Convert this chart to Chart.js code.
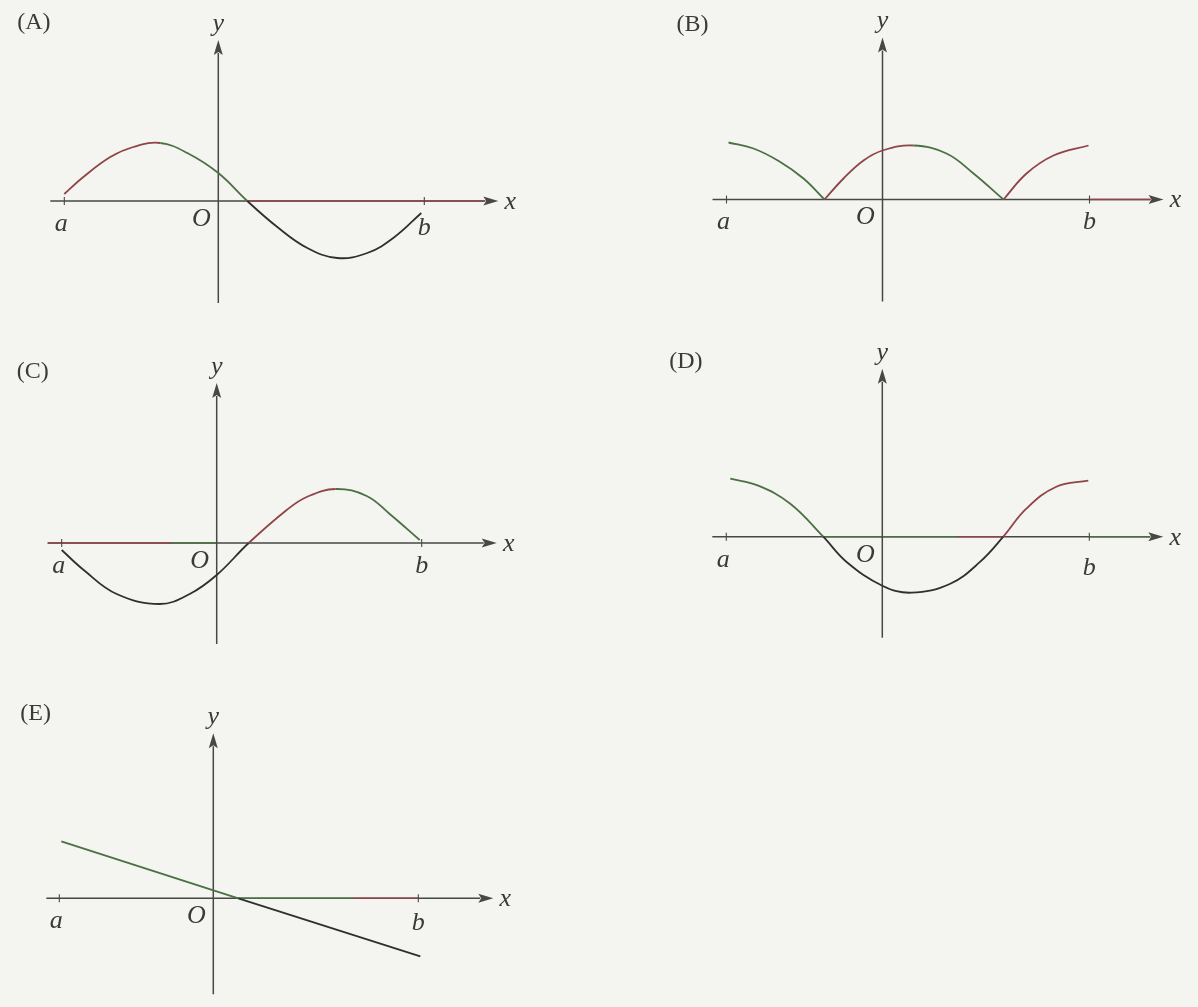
<!DOCTYPE html>
<html>
<head>
<meta charset="utf-8">
<script src="https://cdn.jsdelivr.net/npm/chart.js@4.4.0/dist/chart.umd.min.js"></script>
<style>
  html, body { margin: 0; padding: 0; background: #f4f4f0; }
  body { width: 1198px; height: 1007px; position: relative; overflow: hidden; }
  canvas { position: absolute; }
</style>
</head>
<body>
<canvas id="graph-a"></canvas>
<canvas id="graph-b"></canvas>
<canvas id="graph-c"></canvas>
<canvas id="graph-d"></canvas>
<canvas id="graph-e"></canvas>
<script>
// sampled points of each graph (1 unit = 10 px on both axes)
const curveAx = [-15.4, -13.5, -10.8, -8.5, -5.8, -3.1, 0, 2.9, 5.9, 8.9, 11.9, 14.9, 17.5, 20.3];
const curveAy = [0.7, 2.4, 4.4, 5.4, 5.8, 4.8, 2.8, 0, -2.6, -4.7, -5.7, -5.2, -3.7, -1.2];

// |f| has corners where it touches the axis, so it is split in three arches
const curveB1x = [-15.4, -12.9, -10.3, -7.9, -5.8];
const curveB1y = [5.7, 5.1, 3.8, 2.1, 0];
const curveB2x = [-5.8, -3.9, -1.9, 0, 3.1, 6.4, 9.1, 12.1];
const curveB2y = [0, 2.1, 3.9, 4.9, 5.4, 4.6, 2.6, 0];
const curveB3x = [12.1, 14.4, 17.1, 20.6];
const curveB3y = [0, 2.6, 4.4, 5.4];

const curveCx = [-15.5, -13.3, -10.0, -5.7, -2.7, 0, 3.2, 7.0, 9.0, 11.9, 15.0, 17.3, 20.3];
const curveCy = [-0.7, -2.7, -5.1, -6.1, -5.1, -3.2, 0, 3.3, 4.6, 5.4, 4.7, 2.9, 0.3];

const curveDx = [-15.2, -12.4, -9.2, -5.9, -3.6, 0, 2.9, 6.8, 9.8, 12.1, 14.4, 17.4, 20.6];
const curveDy = [5.8, 5.1, 3.3, 0, -2.5, -4.9, -5.6, -4.7, -2.5, 0, 2.8, 5.0, 5.6];

const lineEx = [-15.2, 2.5, 20.7];
const lineEy = [5.7, 0, -5.8];

const tickLabels = { a: 'a', b: 'b', O: 'O', x: 'x', y: 'y' };

const INK = '#2f2f2f';
const RED_INK = '#8f4446';
const GREEN_INK = '#4b7043';
const AXIS_COLOR = '#474747';
const TEXT_COLOR = '#3a3a3a';
const PX_PER_UNIT = 10;

// above the x-axis: rising parts red, falling parts green; below it black
const segColor = ctx => {
  const y0 = ctx.p0.parsed.y, y1 = ctx.p1.parsed.y;
  if (y0 < 0 || y1 < 0) return INK;
  return y1 > y0 ? RED_INK : GREEN_INK;
};

function toPoints(xs, ys) {
  return xs.map((x, i) => ({ x: x, y: ys[i] }));
}

function curve(xs, ys, smooth = true) {
  return {
    data: toPoints(xs, ys),
    borderColor: INK,
    borderWidth: 1.8,
    pointRadius: 0,
    tension: smooth ? 0.4 : 0,
    segment: { borderColor: segColor }
  };
}

const panels = [
  { id: 'graph-a', title: '(A)', box: [0, 0, 560, 330], origin: [218.3, 201],
    xFrom: -16.8, xTo: 28.0, yFrom: -10.2, yTo: 16.1, a: -15.4, b: 20.6, bDy: 27,
    titleAt: [-201, -178],
    tints: [[2.9, 26.8, RED_INK]],
    datasets: [curve(curveAx, curveAy)] },
  { id: 'graph-b', title: '(B)', box: [640, 0, 558, 330], origin: [882.5, 199.5],
    xFrom: -17.0, xTo: 28.1, yFrom: -10.2, yTo: 16.2, a: -15.6, b: 20.7, bDy: 23,
    titleAt: [-206, -175],
    tints: [[20.7, 26.8, RED_INK]],
    datasets: [curve(curveB1x, curveB1y), curve(curveB2x, curveB2y), curve(curveB3x, curveB3y)] },
  { id: 'graph-c', title: '(C)', box: [0, 340, 560, 330], origin: [216.7, 543],
    xFrom: -16.9, xTo: 28.0, yFrom: -10.1, yTo: 16.0, a: -15.5, b: 20.5, bDy: 23,
    titleAt: [-200, -171],
    tints: [[-16.9, -4.5, RED_INK], [-4.5, 0, GREEN_INK]],
    datasets: [curve(curveCx, curveCy)] },
  { id: 'graph-d', title: '(D)', box: [640, 340, 558, 330], origin: [882.3, 536.7],
    xFrom: -17.0, xTo: 28.1, yFrom: -10.1, yTo: 16.8, a: -15.6, b: 20.7, bDy: 31,
    titleAt: [-213, -175],
    tints: [[-5.9, 7.5, GREEN_INK], [7.5, 12.1, RED_INK], [20.7, 26.8, GREEN_INK]],
    datasets: [curve(curveDx, curveDy)] },
  { id: 'graph-e', title: '(E)', box: [0, 680, 560, 327], origin: [213.3, 898.3],
    xFrom: -16.7, xTo: 28.0, yFrom: -9.6, yTo: 16.5, a: -15.4, b: 20.5, bDy: 25,
    titleAt: [-193, -185],
    tints: [[2.5, 14, GREEN_INK], [14, 20.5, RED_INK]],
    datasets: [curve(lineEx, lineEy, false)] }
];

// coordinate axes with arrow heads, the a/b ticks and the letters
const graphAxes = {
  id: 'graphAxes',
  beforeDatasetsDraw(chart, args, opts) {
    const { ctx, scales: { x, y } } = chart;
    const px = v => x.getPixelForValue(v);
    const py = v => y.getPixelForValue(v);
    const x0 = px(0), y0 = py(0);
    const arrowLen = 15, arrowHalf = 4.5;

    ctx.save();
    ctx.strokeStyle = AXIS_COLOR;
    ctx.fillStyle = AXIS_COLOR;
    ctx.lineWidth = 1.5;

    // x-axis
    ctx.beginPath();
    ctx.moveTo(px(opts.xFrom), y0);
    ctx.lineTo(px(opts.xTo) - arrowLen + 2, y0);
    ctx.stroke();
    opts.tints.forEach(([from, to, color]) => {
      ctx.strokeStyle = color;
      ctx.beginPath();
      ctx.moveTo(px(from), y0);
      ctx.lineTo(Math.min(px(to), px(opts.xTo) - arrowLen + 2), y0);
      ctx.stroke();
    });
    ctx.strokeStyle = AXIS_COLOR;
    ctx.beginPath();
    ctx.moveTo(px(opts.xTo), y0);
    ctx.lineTo(px(opts.xTo) - arrowLen, y0 - arrowHalf);
    ctx.lineTo(px(opts.xTo) - arrowLen + 3, y0);
    ctx.lineTo(px(opts.xTo) - arrowLen, y0 + arrowHalf);
    ctx.closePath();
    ctx.fill();

    // y-axis
    ctx.beginPath();
    ctx.moveTo(x0, py(opts.yFrom));
    ctx.lineTo(x0, py(opts.yTo) + arrowLen - 2);
    ctx.stroke();
    ctx.beginPath();
    ctx.moveTo(x0, py(opts.yTo));
    ctx.lineTo(x0 - arrowHalf, py(opts.yTo) + arrowLen);
    ctx.lineTo(x0, py(opts.yTo) + arrowLen - 3);
    ctx.lineTo(x0 + arrowHalf, py(opts.yTo) + arrowLen);
    ctx.closePath();
    ctx.fill();

    // ticks at a and b
    ctx.lineWidth = 1.1;
    [opts.a, opts.b].forEach(v => {
      ctx.beginPath();
      ctx.moveTo(px(v), y0 - 4);
      ctx.lineTo(px(v), y0 + 4);
      ctx.stroke();
    });
    ctx.restore();
  },
  afterDraw(chart, args, opts) {
    const { ctx, scales: { x, y } } = chart;
    const px = v => x.getPixelForValue(v);
    const py = v => y.getPixelForValue(v);
    const x0 = px(0), y0 = py(0);

    ctx.save();
    ctx.fillStyle = TEXT_COLOR;
    ctx.textBaseline = 'middle';
    ctx.textAlign = 'left';
    ctx.font = '24px "Liberation Serif", "DejaVu Serif", serif';
    ctx.fillText(opts.title, x0 + opts.titleAt[0], y0 + opts.titleAt[1]);

    ctx.textAlign = 'center';
    ctx.font = 'italic 26px "Liberation Serif", "DejaVu Serif", serif';
    ctx.fillText(tickLabels.a, px(opts.a) - 3, y0 + 23);
    ctx.fillText(tickLabels.O, x0 - 17, y0 + 18);
    ctx.fillText(tickLabels.b, px(opts.b), y0 + opts.bDy);
    ctx.fillText(tickLabels.x, px(opts.xTo) + 12, y0 + 1);
    ctx.fillText(tickLabels.y, x0, py(opts.yTo) - 16);
    ctx.restore();
  }
};

panels.forEach(p => {
  const [left, top, width, height] = p.box;
  const [ox, oy] = p.origin;
  const canvas = document.getElementById(p.id);
  canvas.width = width;
  canvas.height = height;
  canvas.style.left = left + 'px';
  canvas.style.top = top + 'px';
  canvas.style.width = width + 'px';
  canvas.style.height = height + 'px';

  new Chart(canvas.getContext('2d'), {
    type: 'line',
    data: { datasets: p.datasets },
    options: {
      responsive: false,
      animation: false,
      events: [],
      layout: { padding: 0 },
      scales: {
        x: { type: 'linear', display: false,
             min: (left - ox) / PX_PER_UNIT, max: (left + width - ox) / PX_PER_UNIT },
        y: { type: 'linear', display: false,
             min: (oy - top - height) / PX_PER_UNIT, max: (oy - top) / PX_PER_UNIT }
      },
      plugins: {
        legend: { display: false },
        tooltip: { enabled: false },
        graphAxes: p
      }
    },
    plugins: [graphAxes]
  });
});
</script>
</body>
</html>
